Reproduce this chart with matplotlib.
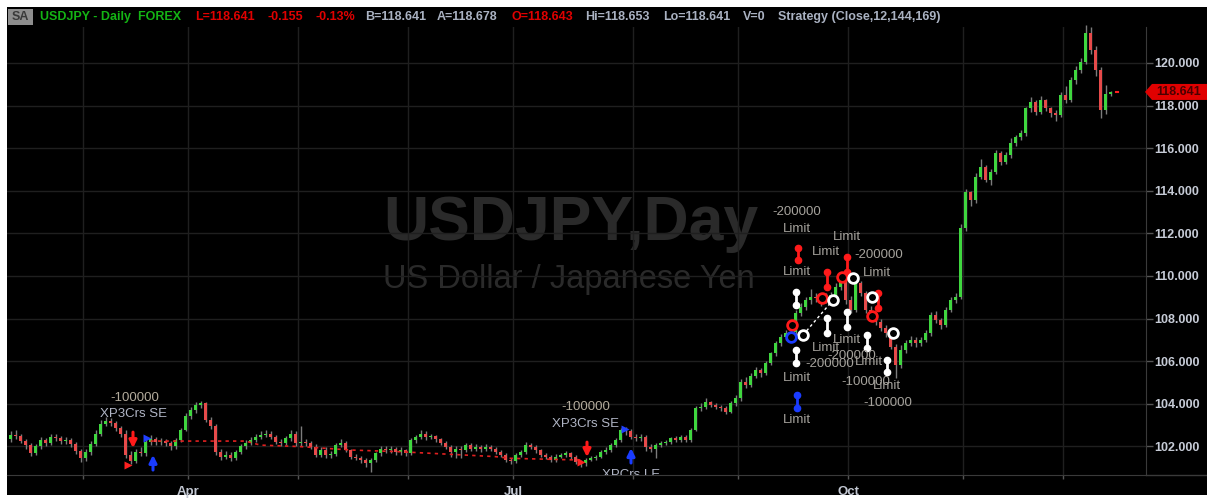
import matplotlib
matplotlib.use("Agg")
import matplotlib.pyplot as plt
from matplotlib.patches import Rectangle, Polygon
from matplotlib.lines import Line2D

plt.rcParams['font.family'] = ['Liberation Sans', 'DejaVu Sans']

# ---- USD/JPY daily bars, Feb - Dec 2014 ----
first_open = 102.35
close_feb = [102.55, 102.50, 102.25, 102.05, 101.70, 102.00, 102.30, 102.15, 102.45, 102.40,
             102.25, 102.30, 102.10, 101.80, 101.45]
high_feb = [102.70, 102.75, 102.60, 102.35, 102.15, 102.10, 102.45, 102.40, 102.60, 102.60,
            102.50, 102.45, 102.40, 102.20, 101.90]
low_feb = [102.20, 102.35, 102.15, 101.90, 101.55, 101.60, 101.90, 102.00, 102.05, 102.25,
           102.10, 102.10, 101.95, 101.65, 101.25]

close_mar = [101.75, 102.10, 102.60, 103.05, 103.20, 103.10, 102.85, 102.60, 101.60, 101.30,
             101.75, 101.70, 102.20, 102.33, 102.20, 102.25, 102.15, 102.00, 102.30, 102.77, 103.45]
high_mar = [101.90, 102.25, 102.75, 103.25, 103.40, 103.35, 103.20, 102.95, 102.75, 101.80,
            101.90, 101.95, 102.35, 102.55, 102.45, 102.40, 102.35, 102.25, 102.40, 102.85, 103.55]
low_mar = [101.30, 101.60, 102.00, 102.50, 102.95, 102.95, 102.70, 102.45, 101.45, 101.15,
           101.20, 101.55, 101.55, 102.05, 102.05, 102.05, 102.00, 101.85, 101.90, 102.20, 102.70]

close_apr = [103.70, 103.95, 104.05, 103.25, 102.95, 101.75, 101.50, 101.60, 101.45, 101.75,
             102.00, 102.15, 102.30, 102.45, 102.55, 102.60, 102.45, 102.20, 102.14, 102.38,
             102.60, 102.14]
high_apr = [103.85, 104.10, 104.15, 104.10, 103.40, 103.05, 101.90, 101.80, 101.75, 101.85,
            102.10, 102.30, 102.45, 102.60, 102.70, 102.75, 102.70, 102.55, 102.35, 102.50,
            102.75, 102.70]
low_apr = [103.30, 103.55, 103.80, 103.15, 102.80, 101.60, 101.35, 101.40, 101.30, 101.35,
           101.65, 101.90, 102.05, 102.20, 102.35, 102.45, 102.35, 102.10, 102.00, 102.05,
           102.25, 102.00]

close_may = [102.22, 102.14, 101.99, 101.60, 101.83, 101.60, 101.62, 102.06, 102.17, 101.83,
             101.52, 101.45, 101.36, 101.20, 101.36, 101.67, 101.90, 101.83, 101.90, 101.75,
             101.83, 101.70]
high_may = [102.95, 102.35, 102.25, 102.10, 101.95, 101.95, 101.80, 102.15, 102.35, 102.25,
            101.90, 101.65, 101.55, 101.45, 101.45, 101.75, 102.00, 102.00, 102.00, 101.95,
            101.95, 101.90]
low_may = [102.00, 102.00, 101.90, 101.50, 101.50, 101.45, 101.45, 101.55, 101.95, 101.75,
           101.40, 101.35, 101.20, 101.05, 100.80, 101.25, 101.55, 101.70, 101.70, 101.60,
           101.60, 101.55]

close_jun = [102.30, 102.46, 102.60, 102.42, 102.49, 102.33, 102.14, 101.99, 101.75, 101.90,
             101.83, 102.06, 101.90, 101.99, 101.90, 101.99, 101.90, 101.75, 101.60, 101.36, 101.30]
high_jun = [102.40, 102.55, 102.75, 102.70, 102.60, 102.55, 102.40, 102.25, 102.05, 102.00,
            102.00, 102.15, 102.15, 102.10, 102.05, 102.10, 102.05, 101.95, 101.85, 101.70, 101.45]
low_jun = [101.60, 102.15, 102.35, 102.30, 102.35, 102.20, 102.05, 101.90, 101.50, 101.45,
           101.45, 101.75, 101.80, 101.80, 101.75, 101.80, 101.80, 101.65, 101.50, 101.25, 101.15]

close_jul = [101.60, 101.75, 102.06, 101.99, 101.83, 101.60, 101.52, 101.36, 101.52, 101.60,
             101.67, 101.52, 101.28, 101.20, 101.36, 101.44, 101.52, 101.75, 101.83, 102.06,
             102.30, 102.77, 102.70, 102.46]
high_jul = [101.70, 101.85, 102.20, 102.15, 102.05, 101.90, 101.70, 101.60, 101.65, 101.70,
            101.80, 101.75, 101.60, 101.35, 101.45, 101.55, 101.60, 101.85, 101.95, 102.15,
            102.40, 102.85, 102.90, 102.80]
low_jul = [101.20, 101.50, 101.65, 101.90, 101.70, 101.50, 101.40, 101.25, 101.25, 101.45,
           101.50, 101.40, 101.15, 101.05, 101.10, 101.30, 101.35, 101.45, 101.65, 101.75,
           101.95, 102.20, 102.55, 102.35]

close_aug = [102.38, 102.46, 101.99, 101.90, 102.06, 102.14, 102.22, 102.38, 102.30, 102.46,
             102.30, 102.77, 103.80, 103.87, 104.10, 103.95, 103.87, 103.80, 103.63, 104.02, 104.26]
high_aug = [102.60, 102.60, 102.55, 102.10, 102.15, 102.25, 102.30, 102.45, 102.50, 102.55,
            102.55, 102.85, 103.90, 104.05, 104.25, 104.15, 104.05, 103.95, 103.90, 104.15, 104.40]
low_aug = [102.25, 102.25, 101.80, 101.75, 101.45, 101.95, 102.05, 102.10, 102.20, 102.20,
           102.20, 102.20, 102.70, 103.65, 103.75, 103.85, 103.75, 103.65, 103.50, 103.55, 103.90]

close_sep = [105.04, 104.88, 105.30, 105.60, 105.43, 105.90, 106.37, 106.84, 107.15, 107.31,
             107.38, 108.25, 108.56, 108.87, 109.03, 108.95, 108.87, 109.03, 109.10, 109.50,
             109.73, 108.87]
high_sep = [105.15, 105.25, 105.45, 105.75, 105.70, 106.00, 106.45, 106.95, 107.30, 107.45,
            107.55, 108.40, 108.75, 109.00, 109.40, 109.20, 109.10, 109.20, 109.25, 109.65,
            109.85, 110.10]
low_sep = [104.15, 104.75, 104.80, 105.20, 105.25, 105.35, 105.80, 106.25, 106.70, 107.00,
           107.20, 107.25, 108.10, 108.40, 108.70, 108.80, 108.60, 108.75, 108.90, 108.95,
           109.35, 108.70]

close_oct = [108.40, 109.66, 109.20, 108.40, 108.09, 107.86, 107.54, 107.31, 106.68, 105.82,
             106.53, 106.84, 107.00, 106.84, 107.00, 107.31, 108.17, 107.93, 107.70, 108.40,
             108.87, 109.03, 112.24]
high_oct = [109.05, 109.85, 109.75, 109.30, 108.60, 108.25, 108.00, 107.70, 107.45, 106.80,
            106.75, 107.00, 107.20, 107.15, 107.15, 107.45, 108.30, 108.35, 108.05, 108.55,
            109.00, 109.20, 112.45]
low_oct = [108.25, 108.30, 109.05, 108.25, 107.95, 107.70, 107.40, 107.15, 106.55, 105.20,
           105.70, 106.40, 106.70, 106.65, 106.70, 106.90, 107.20, 107.80, 107.50, 107.60,
           108.30, 108.75, 108.90]

close_nov = [113.96, 113.57, 114.67, 115.13, 114.51, 114.90, 115.76, 115.37, 115.68, 116.23,
             116.54, 116.70, 117.87, 118.18, 117.72, 118.26, 117.87, 117.64, 117.56, 118.50]
high_nov = [114.10, 114.00, 114.85, 115.50, 115.20, 115.00, 115.90, 115.85, 115.80, 116.50,
            116.60, 116.85, 117.95, 118.40, 118.25, 118.45, 118.30, 117.95, 117.80, 118.65]
low_nov = [112.10, 113.30, 113.45, 114.55, 114.40, 114.25, 114.80, 115.20, 115.25, 115.55,
           116.10, 116.40, 116.55, 117.70, 117.55, 117.60, 117.75, 117.45, 117.30, 117.45]

close_dec = [118.26, 119.20, 119.67, 120.06, 121.39, 120.61, 119.67, 117.80, 118.56, 118.641]
high_dec = [118.90, 119.35, 119.85, 120.25, 121.78, 121.70, 120.80, 119.80, 118.95, 118.70]
low_dec = [118.10, 118.15, 119.00, 119.55, 119.95, 120.40, 119.40, 117.40, 117.60, 118.45]

month_names = ['Feb', 'Mar', 'Apr', 'May', 'Jun', 'Jul', 'Aug', 'Sep', 'Oct', 'Nov', 'Dec']
closes_by_month = [close_feb, close_mar, close_apr, close_may, close_jun, close_jul,
                   close_aug, close_sep, close_oct, close_nov, close_dec]
highs_by_month = [high_feb, high_mar, high_apr, high_may, high_jun, high_jul,
                  high_aug, high_sep, high_oct, high_nov, high_dec]
lows_by_month = [low_feb, low_mar, low_apr, low_may, low_jun, low_jul,
                 low_aug, low_sep, low_oct, low_nov, low_dec]
quarter_labels = ['Apr', 'Jul', 'Oct']

# strategy trailing stop (bar, level)
stop_bar = [28, 47, 50, 58, 68, 78, 82, 97, 100, 114]
stop_level = [102.25, 102.25, 102.06, 101.99, 101.83, 101.75, 101.70, 101.52, 101.44, 101.36]

# crossover signals: (bar, tail price, tip price)
short_arrows = [(24.5, 102.67, 101.92), (115.3, 102.20, 101.50)]
long_arrows = [(28.5, 100.89, 101.60), (124.1, 101.22, 101.92)]
long_fills = [(27.3, 102.39), (122.9, 102.82)]
short_fills = [(23.5, 101.13), (114.0, 101.27)]
signal_qty = [(24.9, 104.27, '-100000'), (115.1, 103.85, '-100000')]
signal_name = [(24.5, 103.52, 'XP3Crs SE'), (115.1, 103.05, 'XP3Crs SE')]
signal_name_low = [(124.1, 100.92, 'XPCrs LE')]

# limit orders around the Sep/Oct top
limit_text = [(157.3, 113.00, '-200000'), (157.3, 112.21, 'Limit'), (167.3, 111.83, 'Limit'),
              (163.1, 111.13, 'Limit'), (173.7, 110.99, '-200000'), (157.3, 110.19, 'Limit'),
              (173.3, 110.14, 'Limit'), (167.3, 107.00, 'Limit'), (163.1, 106.62, 'Limit'),
              (168.3, 106.24, '-200000'), (163.9, 105.87, '-200000'), (171.7, 105.96, 'Limit'),
              (157.3, 105.21, 'Limit'), (171.1, 105.02, '-100000'), (175.3, 104.84, 'Limit'),
              (175.5, 104.04, '-100000'), (157.3, 103.24, 'Limit')]
order_marks = [(157.5, 111.31, 110.75, 'red'), (167.3, 110.89, 110.19, 'red'),
               (163.3, 110.19, 109.48, 'red'), (173.5, 109.20, 108.50, 'red'),
               (157.1, 109.25, 108.64, 'white'), (163.3, 108.03, 107.32, 'white'),
               (167.3, 108.31, 107.61, 'white'), (171.3, 107.23, 106.62, 'white'),
               (157.1, 106.53, 105.92, 'white'), (175.3, 106.06, 105.49, 'white'),
               (157.3, 104.41, 103.80, 'blue')]
fill_marks = [(166.3, 109.95, 'red'), (162.3, 108.97, 'red'), (156.3, 107.70, 'red'),
              (172.3, 108.12, 'red'), (168.5, 109.91, 'white'), (164.5, 108.87, 'white'),
              (172.3, 109.01, 'white'), (158.5, 107.23, 'white'), (176.5, 107.32, 'white'),
              (156.1, 107.14, 'blue')]
fill_path_bar = [158.5, 164.5]
fill_path_price = [107.23, 108.87]

# ---- assemble bars ----
close = [c for m in closes_by_month for c in m]
high = [h for m in highs_by_month for h in m]
low = [l for m in lows_by_month for l in m]
opens = [first_open] + close[:-1]
bars = list(range(len(close)))

month_starts = []
n = 0
for m in closes_by_month:
    month_starts.append(n)
    n += len(m)

W, H = 1207, 501
fig = plt.figure(figsize=(W / 100, H / 100), dpi=100)
fig.patch.set_facecolor('white')


def fx(px):
    return px / W


def fy(py):
    return 1 - py / H


fig.add_artist(Rectangle((fx(7), fy(495)), 1 - fx(7), fy(7) - fy(495),
                         transform=fig.transFigure, facecolor='black', edgecolor='none', zorder=-5))

ax = fig.add_axes([fx(7), fy(475), fx(1146) - fx(7), fy(27) - fy(475)])
ax.set_zorder(1)
ax.set_facecolor('black')
ax.set_xlim(-0.7, 227.1)
ax.set_ylim(100.657, 121.69)

# grid
ax.set_yticks(range(102, 121, 2))
ax.set_yticklabels([f'{v:.3f}' for v in range(102, 121, 2)])
grid_x = [s - 0.5 for s in month_starts[1:]]
ax.set_xticks(grid_x)
ax.set_xticklabels([name if name in quarter_labels else '' for name in month_names[1:]])
ax.grid(True, color='#1f1f1f', lw=1.0, zorder=0)
ax.set_axisbelow(True)

ax.yaxis.tick_right()
ax.tick_params(axis='y', length=5, width=1, color='#555555', labelcolor='#c6cbd6',
               labelsize=9, pad=1)
ax.tick_params(axis='x', length=3, width=1, color='#555555', labelcolor='#c2c7d2',
               labelsize=9.5, pad=5)
for lab in ax.get_yticklabels() + ax.get_xticklabels():
    lab.set_fontweight('bold')
for side in ['top', 'left']:
    ax.spines[side].set_visible(False)
ax.spines['right'].set_color('#3a3a3a')
ax.spines['bottom'].set_color('#3a3a3a')
fig.add_artist(Line2D([fx(1146), 1], [fy(475), fy(475)], transform=fig.transFigure,
                      color='#3a3a3a', lw=1, zorder=2))

# watermark
ax.text(fx(383), fy(240), 'USDJPY,Day', transform=fig.transFigure, fontsize=45,
        fontweight='bold', color='#2a2a2a', ha='left', va='baseline', zorder=0.5)
ax.text(fx(383), fy(288), 'US Dollar / Japanese Yen', transform=fig.transFigure,
        fontsize=23.5, color='#2a2a2a', ha='left', va='baseline', zorder=0.5)

# candles
green, red = '#3fd63f', '#e64a4a'
body_w = 0.72
ax.vlines(bars, low, high, color='#7c7c7c', lw=1, zorder=2, clip_on=False)
for i, o, c in zip(bars, opens, close):
    lo_b, h_b = min(o, c), max(abs(c - o), 0.03)
    ax.add_patch(Rectangle((i - body_w / 2, lo_b), body_w, h_b,
                           facecolor=green if c >= o else red, edgecolor='none', zorder=3))

# trailing stop
ax.plot(stop_bar, stop_level, color='#e02020', lw=1.2, ls=(0, (2, 2.5)), zorder=4)

# crossover signals
for b, tail, tip in short_arrows:
    ax.annotate('', xy=(b, tip), xytext=(b, tail),
                arrowprops=dict(arrowstyle='-|>', color='#ff1a1a', lw=2.2, mutation_scale=11,
                                shrinkA=0, shrinkB=0), zorder=5)
for b, tail, tip in long_arrows:
    ax.annotate('', xy=(b, tip), xytext=(b, tail),
                arrowprops=dict(arrowstyle='-|>', color='#1a3cff', lw=2.2, mutation_scale=11,
                                shrinkA=0, shrinkB=0), zorder=5)
for b, p in long_fills:
    ax.plot(b, p, marker='>', ms=6, color='#2040ff', mec='none', zorder=5)
for b, p in short_fills:
    ax.plot(b, p, marker='>', ms=6, color='#ff2020', mec='none', zorder=5)
for b, p, s in signal_qty:
    ax.text(b, p, s, ha='center', va='center', fontsize=9.5, color='#b3ab9c', zorder=6)
for b, p, s in signal_name:
    ax.text(b, p, s, ha='center', va='center', fontsize=9.5, color='#b0b5c5', zorder=6)
for b, p, s in signal_name_low:
    t = ax.text(b, p, s, ha='center', va='top', fontsize=9.5, color='#b0b5c5', zorder=6)
    t.set_clip_on(True)
    t.set_clip_box(ax.bbox)

# limit orders and fills
marker_col = {'red': '#ff1a1a', 'white': '#ffffff', 'blue': '#1a3cff'}
ax.plot(fill_path_bar, fill_path_price, color='white', lw=1, ls=(0, (2, 2)), zorder=5)
for b, top, bot, col in order_marks:
    ax.plot([b, b], [top, bot], color=marker_col[col], lw=2, marker='o', ms=4.5, zorder=6)
for b, p, col in fill_marks:
    ax.plot(b, p, marker='o', ms=7, mfc='black', mec=marker_col[col], mew=2, zorder=6)
for b, p, s in limit_text:
    ax.text(b, p, s, ha='center', va='center', fontsize=9.5, color='#a5a29c', zorder=7)

# last price tag
last = close[-1]
ax.plot([bars[-1] + 1.0, bars[-1] + 1.4], [last, last], color='#ff2020', lw=1.5, zorder=5)
ly = fig.transFigure.inverted().transform(ax.transData.transform((0, last)))[1]
dy = 8 / H
tag = Polygon([(fx(1145), ly), (fx(1152), ly + dy), (1, ly + dy), (1, ly - dy), (fx(1152), ly - dy)],
              closed=True, transform=fig.transFigure, facecolor='#e00000', edgecolor='none', zorder=10)
fig.add_artist(tag)
fig.text(fx(1179), ly, f'{last:.3f}', ha='center', va='center', fontsize=9, fontweight='bold',
         color='#4a0000', zorder=11)

# header line
fig.add_artist(Rectangle((fx(8), fy(25)), fx(33) - fx(8), fy(9) - fy(25), transform=fig.transFigure,
                         facecolor='#8e8e8e', edgecolor='none', zorder=10))
fig.text(fx(20.5), fy(17), 'SA', ha='center', va='center', fontsize=9, fontweight='bold',
         color='#3a3a3a', zorder=11)
header = [(40, 'USDJPY - Daily  FOREX', '#14b414'), (195, 'L=118.641', '#e00000'),
          (267, '-0.155', '#e00000'), (315, '-0.13%', '#e00000'), (365, 'B=118.641', '#aab2c2'),
          (437, 'A=118.678', '#aab2c2'), (512, 'O=118.643', '#e00000'), (585, 'Hi=118.653', '#aab2c2'),
          (663, 'Lo=118.641', '#aab2c2'), (743, 'V=0', '#aab2c2'),
          (778, 'Strategy (Close,12,144,169)', '#aab2c2')]
for x, s, col in header:
    fig.text(fx(x), fy(17), s, ha='left', va='center', fontsize=9, fontweight='bold', color=col, zorder=11)

fig.savefig('out.png', dpi=100, facecolor=fig.get_facecolor())
